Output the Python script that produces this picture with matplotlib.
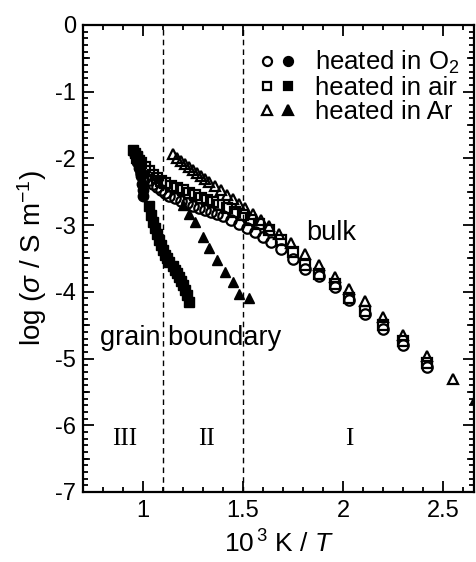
import numpy as np
import matplotlib
matplotlib.use("Agg")
import matplotlib.pyplot as plt
from matplotlib.ticker import MultipleLocator, FixedLocator
from matplotlib.legend_handler import HandlerTuple
from matplotlib.lines import Line2D

plt.rcParams['font.family'] = ['Liberation Sans', 'DejaVu Sans']
plt.rcParams['mathtext.fontset'] = 'custom'
plt.rcParams['mathtext.rm'] = 'Liberation Sans'
plt.rcParams['mathtext.it'] = 'Liberation Sans:italic'

# bulk (open symbols)
o2_bulk_x = [0.99, 1.01, 1.03, 1.05, 1.07, 1.09, 1.11, 1.13, 1.16, 1.19, 1.22, 1.25, 1.28, 1.31,
             1.34, 1.37, 1.40, 1.44, 1.48, 1.52, 1.56, 1.60, 1.64, 1.69, 1.75, 1.81, 1.88, 1.96,
             2.03, 2.11, 2.20, 2.30, 2.42]
o2_bulk_y = [-2.22, -2.28, -2.33, -2.38, -2.43, -2.48, -2.52, -2.56, -2.60, -2.64, -2.67, -2.71,
             -2.74, -2.77, -2.80, -2.83, -2.87, -2.92, -2.98, -3.04, -3.11, -3.18, -3.26, -3.36,
             -3.51, -3.66, -3.77, -3.93, -4.13, -4.33, -4.55, -4.79, -5.12]

air_bulk_x = [0.97, 0.99, 1.01, 1.03, 1.05, 1.07, 1.09, 1.11, 1.14, 1.17, 1.20, 1.23, 1.26, 1.29,
              1.32, 1.35, 1.38, 1.42, 1.46, 1.50, 1.54, 1.58, 1.63, 1.69, 1.75, 1.81, 1.88, 1.96,
              2.03, 2.11, 2.20, 2.30, 2.42]
air_bulk_y = [-2.00, -2.07, -2.13, -2.19, -2.25, -2.30, -2.34, -2.37, -2.41, -2.45, -2.48, -2.52,
              -2.55, -2.59, -2.62, -2.66, -2.70, -2.75, -2.80, -2.85, -2.92, -2.99, -3.08, -3.22,
              -3.40, -3.60, -3.73, -3.89, -4.09, -4.29, -4.50, -4.74, -5.07]

ar_bulk_x = [1.15, 1.17, 1.19, 1.21, 1.23, 1.25, 1.27, 1.29, 1.31, 1.33, 1.36, 1.39, 1.42, 1.45,
             1.48, 1.51, 1.55, 1.59, 1.63, 1.68, 1.74, 1.81, 1.88, 1.96, 2.03, 2.11, 2.20, 2.30,
             2.42, 2.55, 2.665]
ar_bulk_y = [-1.94, -1.99, -2.04, -2.08, -2.13, -2.17, -2.22, -2.26, -2.31, -2.35, -2.42, -2.48,
             -2.55, -2.61, -2.68, -2.75, -2.84, -2.93, -3.02, -3.13, -3.27, -3.44, -3.60, -3.78,
             -3.96, -4.14, -4.37, -4.64, -4.96, -5.30, -5.60]

# grain boundary (filled symbols)
o2_gb_x = [0.96, 0.97, 0.98, 0.99, 0.995, 1.00, 1.00]
o2_gb_y = [-1.95, -2.05, -2.15, -2.27, -2.38, -2.48, -2.57]

air_gb_x = [0.95, 0.96, 0.97, 0.98, 1.03, 1.04, 1.05, 1.06, 1.07, 1.08, 1.09, 1.10, 1.11, 1.12,
            1.13, 1.15, 1.16, 1.17, 1.18, 1.19, 1.20, 1.21, 1.22, 1.23]
air_gb_y = [-1.88, -1.92, -1.97, -2.02, -2.72, -2.85, -2.95, -3.05, -3.14, -3.22, -3.30, -3.38,
            -3.45, -3.50, -3.55, -3.62, -3.68, -3.72, -3.78, -3.84, -3.90, -3.97, -4.05, -4.15]

ar_gb_x = [1.20, 1.23, 1.26, 1.30, 1.33, 1.37, 1.41, 1.45, 1.48, 1.53]
ar_gb_y = [-2.70, -2.83, -2.96, -3.18, -3.35, -3.52, -3.70, -3.85, -4.03, -4.10]

boundaries = [1.1, 1.5]
xtick_vals = [1, 1.5, 2, 2.5]
xtick_labels = ['1', '1.5', '2', '2.5']
ytick_vals = [0, -1, -2, -3, -4, -5, -6, -7]
ytick_labels = ['0', '-1', '-2', '-3', '-4', '-5', '-6', '-7']

fig = plt.figure(figsize=(4.77, 5.62), dpi=100)
ax = fig.add_axes([0.174, 0.1246, 0.820, 0.831])

ms = 7.5
mew = 1.6
ax.plot(o2_bulk_x, o2_bulk_y, 'o', ms=ms, mfc='none', mec='k', mew=mew)
ax.plot(air_bulk_x, air_bulk_y, 's', ms=ms - 1, mfc='none', mec='k', mew=mew)
ax.plot(ar_bulk_x, ar_bulk_y, '^', ms=ms, mfc='none', mec='k', mew=mew)
ax.plot(o2_gb_x, o2_gb_y, 'o', ms=ms, color='k')
ax.plot(air_gb_x, air_gb_y, 's', ms=ms - 1, color='k')
ax.plot(ar_gb_x, ar_gb_y, '^', ms=ms, color='k')

for b in boundaries:
    ax.axvline(b, color='k', lw=1, ls=(0, (4, 3)))

ax.set_xlim(0.7, 2.655)
ax.set_ylim(-7, 0)

ax.xaxis.set_major_locator(FixedLocator(xtick_vals))
ax.set_xticklabels(xtick_labels)
ax.xaxis.set_minor_locator(MultipleLocator(0.1))
ax.yaxis.set_major_locator(FixedLocator(ytick_vals))
ax.set_yticklabels(ytick_labels)
ax.yaxis.set_minor_locator(MultipleLocator(0.1))

ax.tick_params(which='both', direction='in', top=True, right=True, width=1.3, labelsize=17)
ax.tick_params(which='major', length=8, pad=5)
ax.tick_params(which='minor', length=3.6)
ax.tick_params(axis='x', which='major', pad=6)
# medium ticks at half units on y
for yv in np.arange(-6.5, 0, 1.0):
    ax.plot([0, 0.015], [yv, yv], color='k', lw=1.3, transform=ax.get_yaxis_transform(), clip_on=False)
    ax.plot([1, 1 - 0.015], [yv, yv], color='k', lw=1.3, transform=ax.get_yaxis_transform(), clip_on=False)

for s in ax.spines.values():
    s.set_linewidth(1.6)

ax.set_xlabel('10$^{\\,3}$ K / $T$', fontsize=19, labelpad=6)
ax.set_ylabel(r'log ($\sigma$ / S m$^{-1}$)', fontsize=20, labelpad=4)

ax.text(1.817, -3.22, 'bulk', fontsize=19.5, ha='left', va='baseline')
ax.text(0.787, -4.80, 'grain boundary', fontsize=19.5, ha='left', va='baseline')
for lab, xp in [('III', 0.909), ('II', 1.317), ('I', 2.03)]:
    ax.text(xp, -6.30, lab, fontsize=18, ha='center', va='baseline', family='Liberation Serif')

def mk(m, filled, size):
    return Line2D([], [], ls='none', marker=m, ms=size, mec='k', mew=mew,
                  mfc='k' if filled else 'none')

handles = [(mk('o', False, 6.5), mk('o', True, 6.5)),
           (mk('s', False, 6), mk('s', True, 6)),
           (mk('^', False, 6.5), mk('^', True, 6.5))]
labels = ['heated in O$_2$', 'heated in air', 'heated in Ar']
ax.legend(handles, labels, handler_map={tuple: HandlerTuple(ndivide=None, pad=0)},
          loc='upper left', bbox_to_anchor=(0.445, 0.949), frameon=False, fontsize=18.5,
          handlelength=1.6, handletextpad=0.64, labelspacing=0.0, borderpad=0,
          borderaxespad=0)

fig.savefig('out.png', dpi=100)
